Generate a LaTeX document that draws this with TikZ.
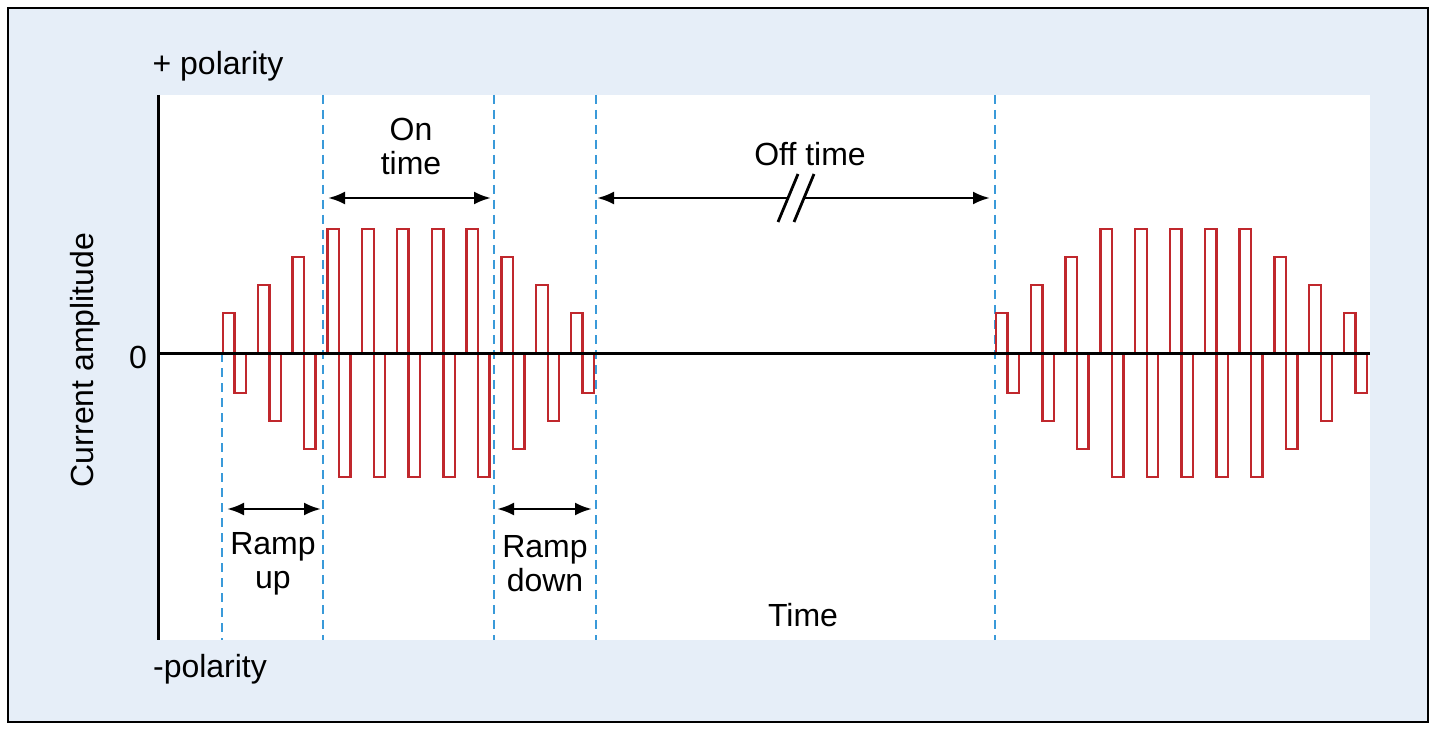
\documentclass[tikz,border=0pt]{standalone}
\usepackage{fontspec}
\setmainfont{Liberation Sans}
\usetikzlibrary{arrows.meta}
\definecolor{panel}{HTML}{E6EEF8}
\definecolor{pulse}{HTML}{C0282D}
\definecolor{guide}{HTML}{3A9AD9}
\tikzset{
  lbl/.style={font=\fontsize{32}{34}\selectfont, align=center, inner sep=0},
  span/.style={{Latex[length=17pt,width=13pt]}-{Latex[length=17pt,width=13pt]}, line width=2.8pt},
  guideline/.style={guide, dashed, dash pattern=on 9pt off 6pt, line width=2.2pt},
  pulseline/.style={pulse, line width=2.4pt}
}
\begin{document}
\begin{tikzpicture}[x=1pt,y=-1pt]
    \useasboundingbox (0,0) rectangle (1440,730);

    % Panel
    \draw[fill=panel, line width=2.5pt] (8,8) rectangle (1428,722);
    \fill[white] (158,95) rectangle (1370,640);

    % Guides
    \draw[guideline] (222,353) -- (222,640);
    \foreach \gx in {323,494,596,995}
      \draw[guideline] (\gx,95) -- (\gx,640);

    % Pulses
    \foreach \start in {223,996} {
      \foreach \h [count=\k from 0] in {40,68,96,124,124,124,124,124,96,68,40} {
        \pgfmathsetmacro{\px}{\start+34.8*\k}
        \draw[pulseline] (\px,353) -- (\px,353-\h) -- (\px+11.5,353-\h)
          -- (\px+11.5,353+\h) -- (\px+23,353+\h) -- (\px+23,353);
      }
    }

    % Axes
    \coordinate (top) at (158,95);
    \coordinate (bottom) at (158,640);
    \coordinate (zero) at (158,353);
    \coordinate (end) at (1370,353);
    \draw[line width=3pt] (top) -- (bottom);
    \draw[line width=3pt] (zero) -- (end);

    % Spans
    \coordinate (onL) at (328,198);   \coordinate (onR) at (491,198);
    \coordinate (offL) at (597,198);  \coordinate (offR) at (990,198);
    \coordinate (upL) at (227,509);   \coordinate (upR) at (321,509);
    \coordinate (dnL) at (497,509);   \coordinate (dnR) at (592,509);
    \draw[span] (onL) -- (onR);
    \draw[span] (offL) -- (offR);
    \draw[span] (upL) -- (upR);
    \draw[span] (dnL) -- (dnR);
    \fill[white] (788,185) rectangle (804,212);
    \draw[line width=2.8pt] (778,222) -- (798,174);
    \draw[line width=2.8pt] (794,222) -- (814,174);

    % Labels
    \node[lbl] (ontime) at (411,146) {On\\time};
    \node[lbl] (offtime) at (810,154) {Off time};
    \node[lbl] (rampup) at (273,564) {Ramp\\up};
    \node[lbl] (rampdown) at (545,564) {Ramp\\down};
    \node[lbl] (time) at (803,615) {Time};
    \node[lbl] (pos) at (218,66) {+ polarity};
    \node[lbl] (neg) at (210,669) {-polarity};
    \node[lbl] (zerolbl) at (138,357) {0};
    \node[lbl, rotate=90] (amp) at (85,360) {Current amplitude};

\end{tikzpicture}
\end{document}
